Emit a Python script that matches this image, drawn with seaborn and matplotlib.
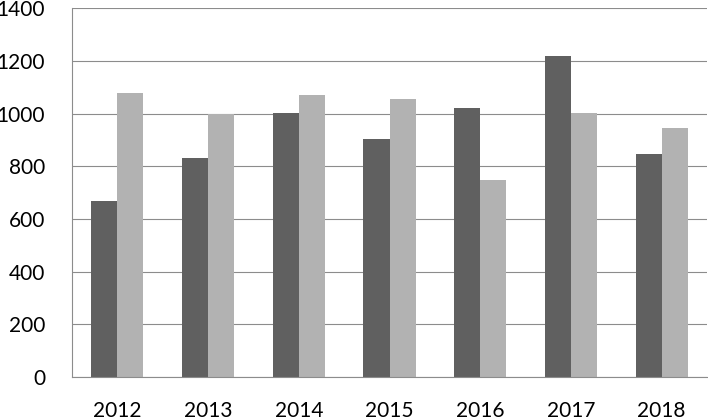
import matplotlib
matplotlib.use("Agg")
import matplotlib.pyplot as plt
import seaborn as sns
import pandas as pd
import numpy as np

years = ["2012", "2013", "2014", "2015", "2016", "2017", "2018"]
series_a = [668, 830, 1004, 904, 1021, 1218, 847]
series_b = [1078, 998, 1070, 1057, 749, 1004, 946]
y_ticks = [0, 200, 400, 600, 800, 1000, 1200, 1400]

df = pd.DataFrame({
    "year": years * 2,
    "value": series_a + series_b,
    "series": ["A"] * len(years) + ["B"] * len(years),
})

sns.set_theme(style="white")
plt.rcParams["font.family"] = ["Lato", "DejaVu Sans"]

fig = plt.figure(figsize=(7.08, 4.18), dpi=100)
ax = fig.add_axes([72 / 708, 1 - 377 / 418, (707 - 72) / 708, (377 - 8.3) / 418])

sns.barplot(data=df, x="year", y="value", hue="series", order=years,
            palette={"A": "#606060", "B": "#b2b2b2"}, width=0.574,
            saturation=1, legend=False, ax=ax, linewidth=0, errorbar=None)

ax.set_ylim(0, 1400)
ax.set_xlim(-0.5, len(years) - 0.5)
ax.set_yticks(y_ticks)
ax.set_yticklabels([str(t) for t in y_ticks])
ax.yaxis.grid(True, color="#8c8c8c", linewidth=0.8)
ax.set_axisbelow(True)

ax.set_xticks(np.arange(len(years)))
ax.set_xticklabels(years)
ax.set_xticks(np.arange(-0.5, len(years), 1.0), minor=True)
ax.tick_params(axis="x", which="major", length=0, pad=17, labelsize=15, labelcolor="black")
ax.tick_params(axis="x", which="minor", length=5.8, width=0.8, color="#8c8c8c", direction="out")
ax.tick_params(axis="y", length=5.8, width=0.8, color="#8c8c8c", direction="out", pad=13.5,
               labelsize=15, labelcolor="black")

for s in ["top", "right"]:
    ax.spines[s].set_visible(False)
for s in ["left", "bottom"]:
    ax.spines[s].set_color("#8c8c8c")
    ax.spines[s].set_linewidth(0.8)

ax.set_xlabel("")
ax.set_ylabel("")

fig.savefig("out.png", dpi=100)
